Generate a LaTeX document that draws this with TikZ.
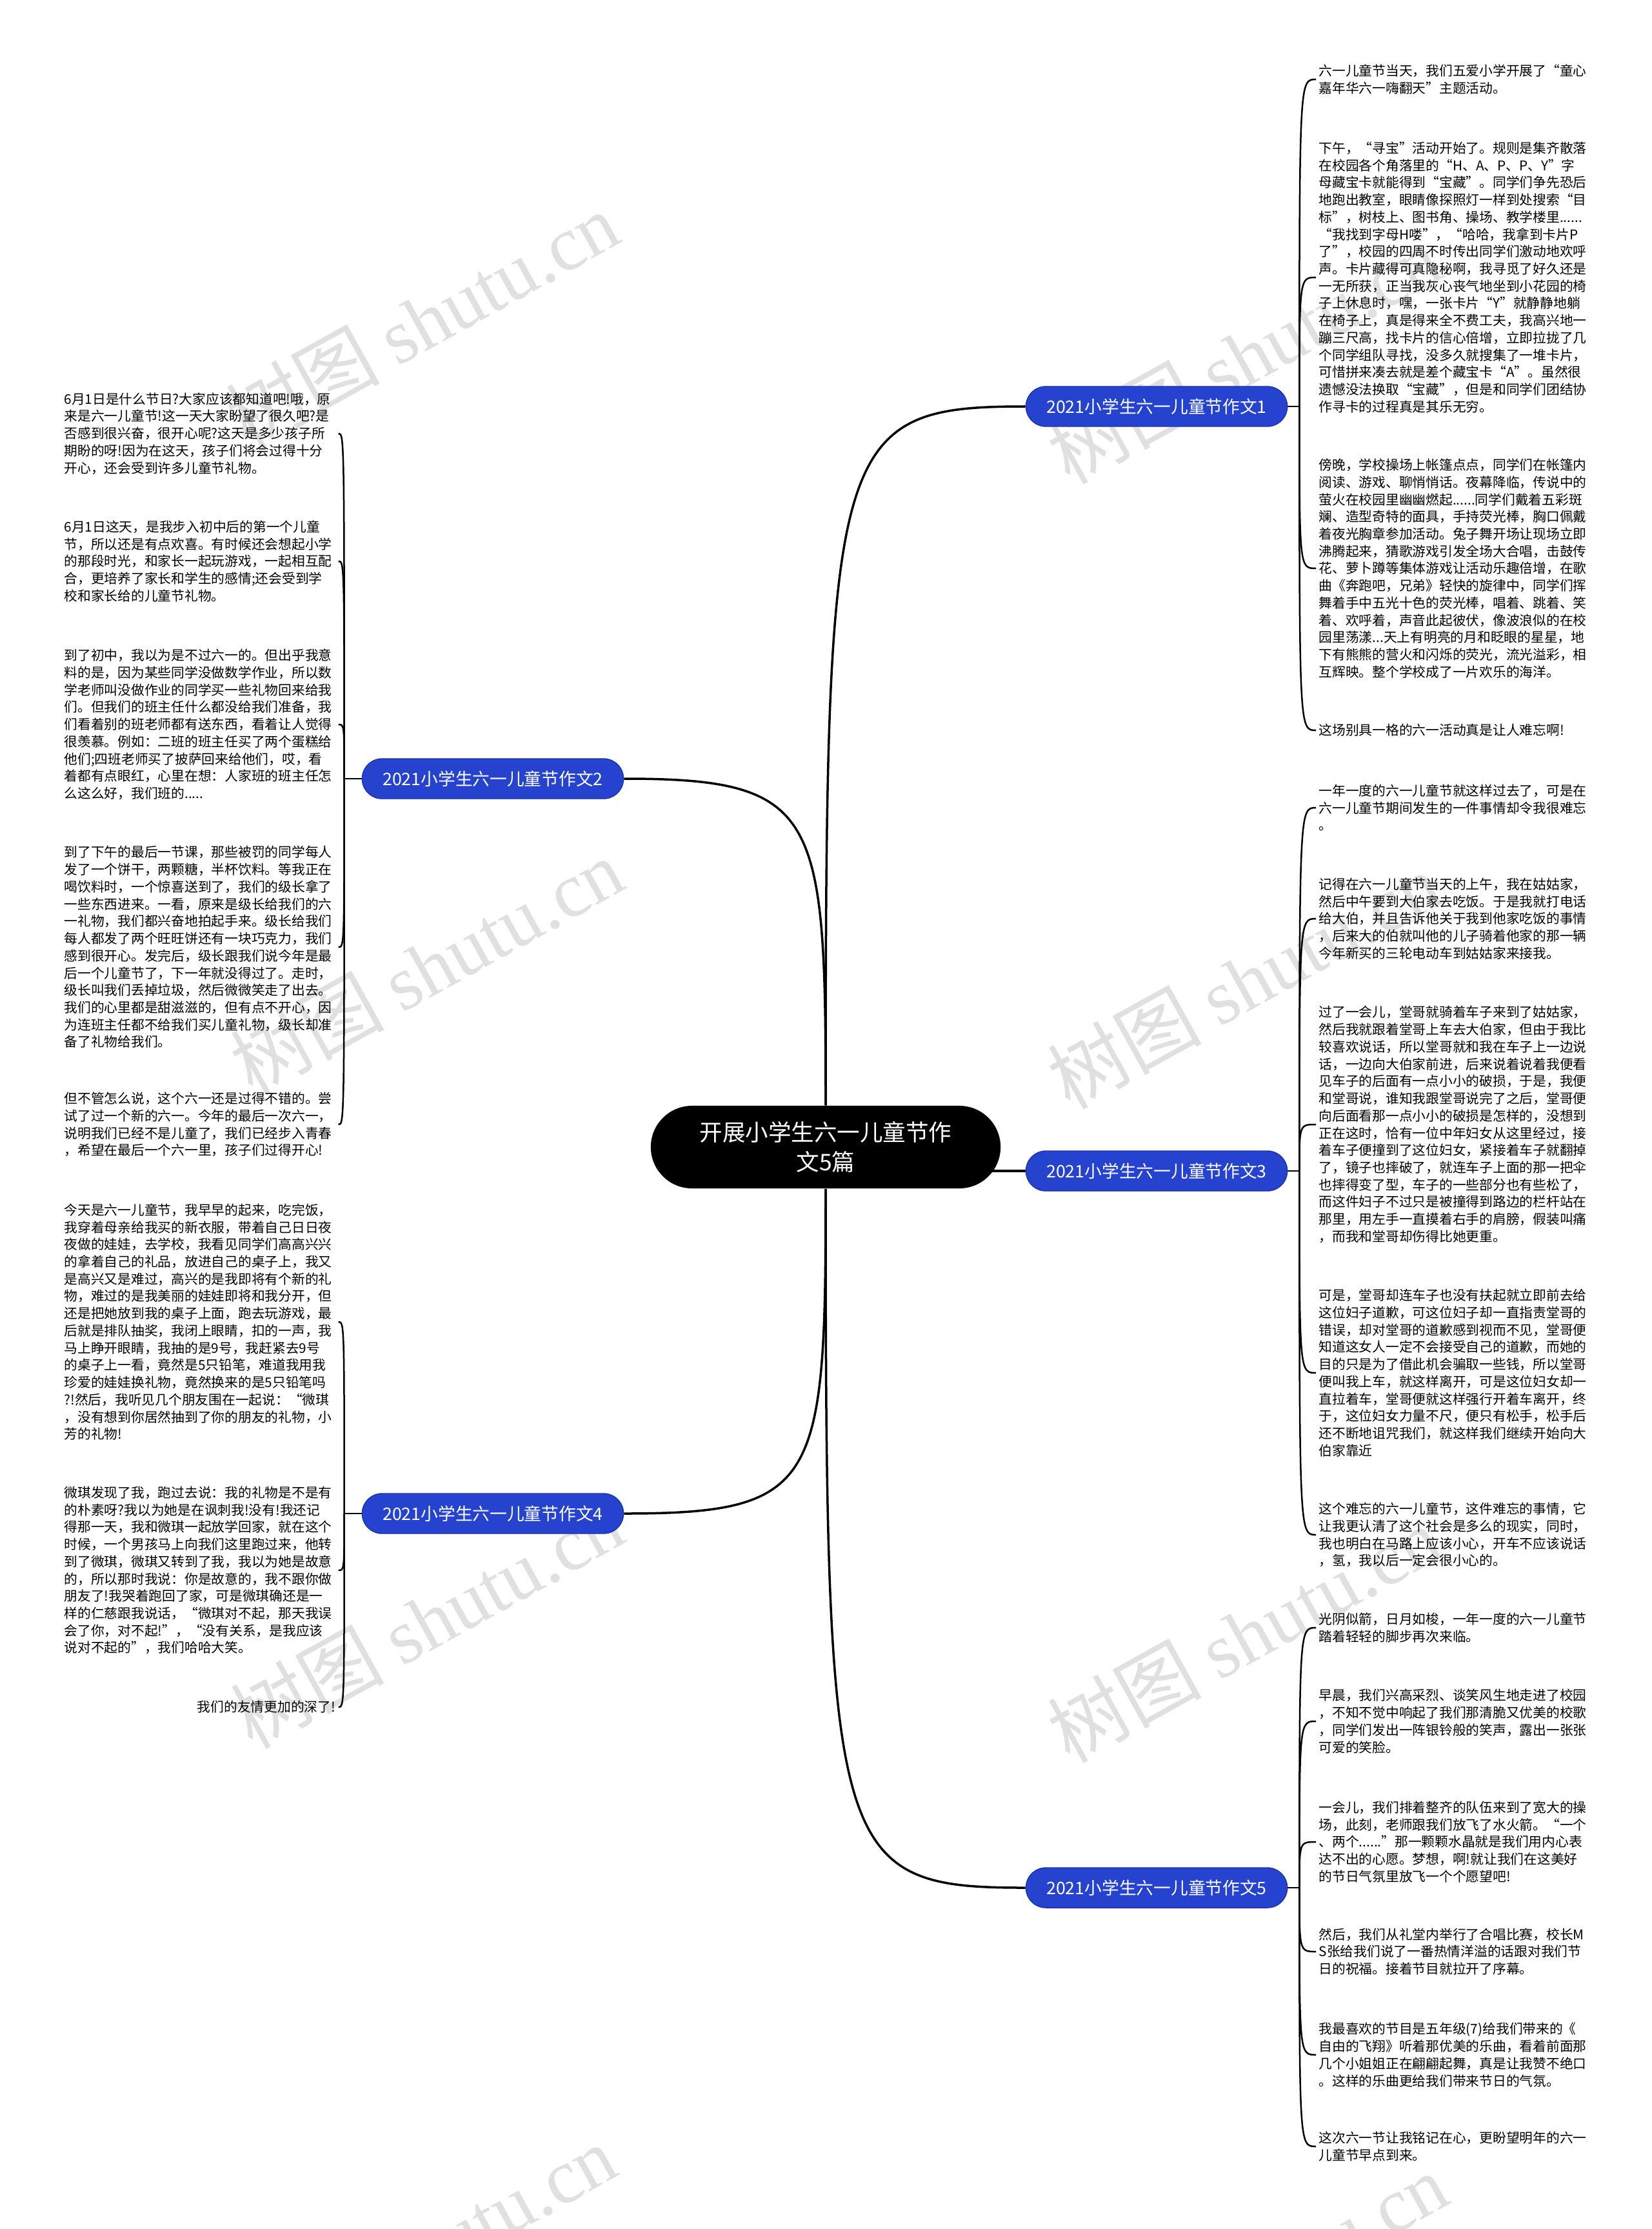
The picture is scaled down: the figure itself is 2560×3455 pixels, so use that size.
\documentclass[tikz,border=0pt]{standalone}
\usepackage{fontspec}
\setmainfont{Noto Sans CJK SC}
\newfontfamily\wmlatin{Liberation Serif}
\usepackage{tikz}
\usetikzlibrary{calc,backgrounds}
\definecolor{branchblue}{RGB}{38,67,208}
\definecolor{branchedge}{RGB}{28,50,170}
\definecolor{wmgray}{RGB}{224,224,224}

\begin{document}
\begin{tikzpicture}[x=0.01cm,y=-0.01cm,
 topic/.style={fill=black,text=white,rounded corners=0.64cm,minimum width=5.42cm,minimum height=1.28cm,align=center,font=\fontsize{10.1pt}{13.1pt}\selectfont},
 branch/.style={fill=branchblue,draw=branchedge,line width=0.4pt,text=white,rounded corners=0.31cm,minimum width=4.05cm,minimum height=0.62cm,font=\fontsize{7.6pt}{9pt}\selectfont},
 leaf/.style={text width=4.2cm,inner sep=0.04cm,align=left,font=\fontsize{5.9pt}{7.6pt}\selectfont},
 wmtext/.style={text=wmgray,rotate=29,font=\fontsize{34pt}{40pt}\selectfont},
 link/.style={line width=0.035cm},
 twig/.style={line width=0.025cm}]
\useasboundingbox (0,0) rectangle (2560,3455);

\node[topic] (title) at (1280,1778) {开展小学生六一儿童节作\\文5篇};
\node[branch] (b1) at (1793,630) {2021小学生六一儿童节作文1};
\node[branch] (b2) at (764,1207) {2021小学生六一儿童节作文2};
\node[branch] (b3) at (1793,1815) {2021小学生六一儿童节作文3};
\node[branch] (b4) at (764,2346) {2021小学生六一儿童节作文4};
\node[branch] (b5) at (1793,2926) {2021小学生六一儿童节作文5};

% essay 1
\node[leaf,anchor=west] (r1a) at (2040,123) {六一儿童节当天，我们五爱小学开展了“童心\\嘉年华六一嗨翻天”主题活动。};
\node[leaf,anchor=west] (r1b) at (2040,430) {下午，“寻宝”活动开始了。规则是集齐散落\\在校园各个角落里的“H、A、P、P、Y”字\\母藏宝卡就能得到“宝藏”。同学们争先恐后\\地跑出教室，眼睛像探照灯一样到处搜索“目\\标”，树枝上、图书角、操场、教学楼里......\\“我找到字母H喽”，“哈哈，我拿到卡片P\\了”，校园的四周不时传出同学们激动地欢呼\\声。卡片藏得可真隐秘啊，我寻觅了好久还是\\一无所获，正当我灰心丧气地坐到小花园的椅\\子上休息时，嘿，一张卡片“Y”就静静地躺\\在椅子上，真是得来全不费工夫，我高兴地一\\蹦三尺高，找卡片的信心倍增，立即拉拢了几\\个同学组队寻找，没多久就搜集了一堆卡片，\\可惜拼来凑去就是差个藏宝卡“A”。虽然很\\遗憾没法换取“宝藏”，但是和同学们团结协\\作寻卡的过程真是其乐无穷。};
\node[leaf,anchor=west] (r1c) at (2040,881) {傍晚，学校操场上帐篷点点，同学们在帐篷内\\阅读、游戏、聊悄悄话。夜幕降临，传说中的\\萤火在校园里幽幽燃起......同学们戴着五彩斑\\斓、造型奇特的面具，手持荧光棒，胸口佩戴\\着夜光胸章参加活动。兔子舞开场让现场立即\\沸腾起来，猜歌游戏引发全场大合唱，击鼓传\\花、萝卜蹲等集体游戏让活动乐趣倍增，在歌\\曲《奔跑吧，兄弟》轻快的旋律中，同学们挥\\舞着手中五光十色的荧光棒，唱着、跳着、笑\\着、欢呼着，声音此起彼伏，像波浪似的在校\\园里荡漾...天上有明亮的月和眨眼的星星，地\\下有熊熊的营火和闪烁的荧光，流光溢彩，相\\互辉映。整个学校成了一片欢乐的海洋。};
\node[leaf,anchor=west] (r1d) at (2040,1132) {这场别具一格的六一活动真是让人难忘啊!};

% essay 3
\node[leaf,anchor=west] (r3a) at (2040,1252) {一年一度的六一儿童节就这样过去了，可是在\\六一儿童节期间发生的一件事情却令我很难忘\\。};
\node[leaf,anchor=west] (r3b) at (2040,1424) {记得在六一儿童节当天的上午，我在姑姑家，\\然后中午要到大伯家去吃饭。于是我就打电话\\给大伯，并且告诉他关于我到他家吃饭的事情\\，后来大的伯就叫他的儿子骑着他家的那一辆\\今年新买的三轮电动车到姑姑家来接我。};
\node[leaf,anchor=west] (r3c) at (2040,1743) {过了一会儿，堂哥就骑着车子来到了姑姑家，\\然后我就跟着堂哥上车去大伯家，但由于我比\\较喜欢说话，所以堂哥就和我在车子上一边说\\话，一边向大伯家前进，后来说着说着我便看\\见车子的后面有一点小小的破损，于是，我便\\和堂哥说，谁知我跟堂哥说完了之后，堂哥便\\向后面看那一点小小的破损是怎样的，没想到\\正在这时，恰有一位中年妇女从这里经过，接\\着车子便撞到了这位妇女，紧接着车子就翻掉\\了，镜子也摔破了，就连车子上面的那一把伞\\也摔得变了型，车子的一些部分也有些松了，\\而这件妇子不过只是被撞得到路边的栏杆站在\\那里，用左手一直摸着右手的肩膀，假装叫痛\\，而我和堂哥却伤得比她更重。};
\node[leaf,anchor=west] (r3d) at (2040,2128) {可是，堂哥却连车子也没有扶起就立即前去给\\这位妇子道歉，可这位妇子却一直指责堂哥的\\错误，却对堂哥的道歉感到视而不见，堂哥便\\知道这女人一定不会接受自己的道歉，而她的\\目的只是为了借此机会骗取一些钱，所以堂哥\\便叫我上车，就这样离开，可是这位妇女却一\\直拉着车，堂哥便就这样强行开着车离开，终\\于，这位妇女力量不尺，便只有松手，松手后\\还不断地诅咒我们，就这样我们继续开始向大\\伯家靠近};
\node[leaf,anchor=west] (r3e) at (2040,2379) {这个难忘的六一儿童节，这件难忘的事情，它\\让我更认清了这个社会是多么的现实，同时，\\我也明白在马路上应该小心，开车不应该说话\\，氢，我以后一定会很小心的。};

% essay 5
\node[leaf,anchor=west] (r5a) at (2040,2523) {光阴似箭，日月如梭，一年一度的六一儿童节\\踏着轻轻的脚步再次来临。};
\node[leaf,anchor=west] (r5b) at (2040,2668) {早晨，我们兴高采烈、谈笑风生地走进了校园\\，不知不觉中响起了我们那清脆又优美的校歌\\，同学们发出一阵银铃般的笑声，露出一张张\\可爱的笑脸。};
\node[leaf,anchor=west] (r5c) at (2040,2855) {一会儿，我们排着整齐的队伍来到了宽大的操\\场，此刻，老师跟我们放飞了水火箭。“一个\\、两个......”那一颗颗水晶就是我们用内心表\\达不出的心愿。梦想，啊!就让我们在这美好\\的节日气氛里放飞一个个愿望吧!};
\node[leaf,anchor=west] (r5d) at (2040,3025) {然后，我们从礼堂内举行了合唱比赛，校长M\\S张给我们说了一番热情洋溢的话跟对我们节\\日的祝福。接着节目就拉开了序幕。};
\node[leaf,anchor=west] (r5e) at (2040,3185) {我最喜欢的节目是五年级(7)给我们带来的《\\自由的飞翔》听着那优美的乐曲，看着前面那\\几个小姐姐正在翩翩起舞，真是让我赞不绝口\\。这样的乐曲更给我们带来节日的气氛。};
\node[leaf,anchor=west] (r5f) at (2040,3327) {这次六一节让我铭记在心，更盼望明年的六一\\儿童节早点到来。};

% essay 2
\node[leaf,anchor=west] (l2a) at (95,672) {6月1日是什么节日?大家应该都知道吧!哦，原\\来是六一儿童节!这一天大家盼望了很久吧?是\\否感到很兴奋，很开心呢?这天是多少孩子所\\期盼的呀!因为在这天，孩子们将会过得十分\\开心，还会受到许多儿童节礼物。};
\node[leaf,anchor=west] (l2b) at (95,870) {6月1日这天，是我步入初中后的第一个儿童\\节，所以还是有点欢喜。有时候还会想起小学\\的那段时光，和家长一起玩游戏，一起相互配\\合，更培养了家长和学生的感情;还会受到学\\校和家长给的儿童节礼物。};
\node[leaf,anchor=west] (l2c) at (95,1123) {到了初中，我以为是不过六一的。但出乎我意\\料的是，因为某些同学没做数学作业，所以数\\学老师叫没做作业的同学买一些礼物回来给我\\们。但我们的班主任什么都没给我们准备，我\\们看着别的班老师都有送东西，看着让人觉得\\很羡慕。例如：二班的班主任买了两个蛋糕给\\他们;四班老师买了披萨回来给他们，哎，看\\着都有点眼红，心里在想：人家班的班主任怎\\么这么好，我们班的.....};
\node[leaf,anchor=west] (l2d) at (95,1468) {到了下午的最后一节课，那些被罚的同学每人\\发了一个饼干，两颗糖，半杯饮料。等我正在\\喝饮料时，一个惊喜送到了，我们的级长拿了\\一些东西进来。一看，原来是级长给我们的六\\一礼物，我们都兴奋地拍起手来。级长给我们\\每人都发了两个旺旺饼还有一块巧克力，我们\\感到很开心。发完后，级长跟我们说今年是最\\后一个儿童节了，下一年就没得过了。走时，\\级长叫我们丢掉垃圾，然后微微笑走了出去。\\我们的心里都是甜滋滋的，但有点不开心，因\\为连班主任都不给我们买儿童礼物，级长却准\\备了礼物给我们。};
\node[leaf,anchor=west] (l2e) at (95,1743) {但不管怎么说，这个六一还是过得不错的。尝\\试了过一个新的六一。今年的最后一次六一，\\说明我们已经不是儿童了，我们已经步入青春\\，希望在最后一个六一里，孩子们过得开心!};

% essay 4
\node[leaf,anchor=west] (l4a) at (95,2049) {今天是六一儿童节，我早早的起来，吃完饭，\\我穿着母亲给我买的新衣服，带着自己日日夜\\夜做的娃娃，去学校，我看见同学们高高兴兴\\的拿着自己的礼品，放进自己的桌子上，我又\\是高兴又是难过，高兴的是我即将有个新的礼\\物，难过的是我美丽的娃娃即将和我分开，但\\还是把她放到我的桌子上面，跑去玩游戏，最\\后就是排队抽奖，我闭上眼睛，扣的一声，我\\马上睁开眼睛，我抽的是9号，我赶紧去9号\\的桌子上一看，竟然是5只铅笔，难道我用我\\珍爱的娃娃换礼物，竟然换来的是5只铅笔吗\\?!然后，我听见几个朋友围在一起说：“微琪\\，没有想到你居然抽到了你的朋友的礼物，小\\芳的礼物!};
\node[leaf,anchor=west] (l4b) at (95,2434) {微琪发现了我，跑过去说：我的礼物是不是有\\的朴素呀?我以为她是在讽刺我!没有!我还记\\得那一天，我和微琪一起放学回家，就在这个\\时候，一个男孩马上向我们这里跑过来，他转\\到了微琪，微琪又转到了我，我以为她是故意\\的，所以那时我说：你是故意的，我不跟你做\\朋友了!我哭着跑回了家，可是微琪确还是一\\样的仁慈跟我说话，“微琪对不起，那天我误\\会了你，对不起!”，“没有关系，是我应该\\说对不起的”，我们哈哈大笑。};
\node[leaf,anchor=west,align=right] (l4c) at (95,2646) {我们的友情更加的深了!};

\coordinate (k1) at ($(b1.east)+(18,0)$);
\coordinate (k2) at ($(b2.west)+(-27,0)$);
\coordinate (k3) at ($(b3.east)+(18,0)$);
\coordinate (k4) at ($(b4.west)+(-27,0)$);
\coordinate (k5) at ($(b5.east)+(18,0)$);

\begin{scope}[on background layer]
\fill[white] (0,0) rectangle (2560,3455);
\foreach \p [count=\i] in {(654,496),(1928,551),(661,1498),(1928,1520),(661,2511),(1928,2533),(650,3492),(1939,3536)}
  \node[wmtext] (wm\i) at \p {树图\ {\wmlatin shutu.cn}};
\draw[link] (title.north) .. controls (1280,680) and (1290,630) .. (b1.west);
\draw[link] (title.north) .. controls (1280,1260) and (1270,1207) .. (b2.east);
\draw[link] (title.center |- b3.west) -- (b3.west);
\draw[link] (title.south) .. controls (1280,2300) and (1270,2346) .. (b4.east);
\draw[link] (title.south) .. controls (1280,2880) and (1290,2926) .. (b5.west);
\draw[twig] (b1.east) -- (k1);
\draw[twig] (b2.west) -- (k2);
\draw[twig] (b3.east) -- (k3);
\draw[twig] (b4.west) -- (k4);
\draw[twig] (b5.east) -- (k5);
\foreach \n in {r1a,r1b,r1c,r1d}
  \draw[twig] (k1) .. controls (k1 |- \n.west) .. (\n.west);
\foreach \n in {r3a,r3b,r3c,r3d,r3e}
  \draw[twig] (k3) .. controls (k3 |- \n.west) .. (\n.west);
\foreach \n in {r5a,r5b,r5c,r5d,r5e,r5f}
  \draw[twig] (k5) .. controls (k5 |- \n.west) .. (\n.west);
\foreach \n in {l2a,l2b,l2c,l2d,l2e}
  \draw[twig] (k2) .. controls (k2 |- \n.east) .. (\n.east);
\foreach \n in {l4a,l4b,l4c}
  \draw[twig] (k4) .. controls (k4 |- \n.east) .. (\n.east);
\end{scope}
\end{tikzpicture}
\end{document}
